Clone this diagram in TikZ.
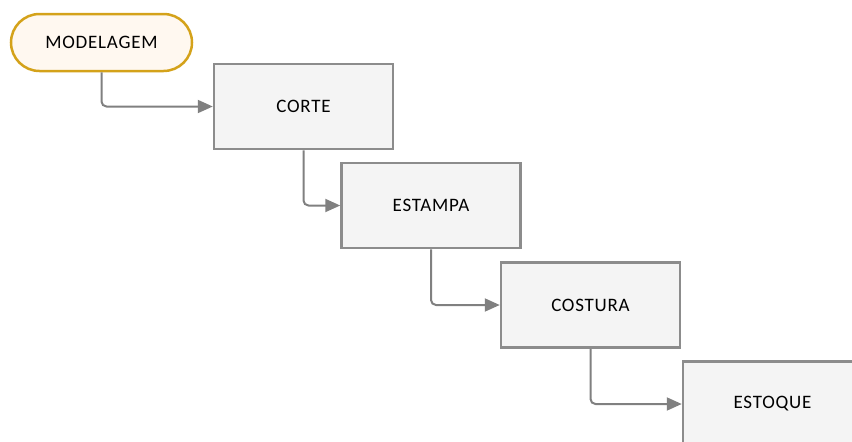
\documentclass[tikz,border=0pt]{standalone}
\usepackage{fontspec}
\setmainfont{Carlito}
\usetikzlibrary{arrows.meta}
\definecolor{boxfill}{HTML}{F4F4F4}
\definecolor{boxline}{HTML}{8C8C8C}
\definecolor{startline}{HTML}{D4A21A}
\definecolor{startfill}{HTML}{FFF8F0}
\definecolor{arrowcol}{HTML}{808080}
\tikzset{
  lbl/.style={font=\fontsize{19}{22}\selectfont\addfontfeature{LetterSpace=4}},
  stepbox/.style={lbl, draw=boxline, fill=boxfill, line width=2.5pt, minimum width=179pt, minimum height=85pt, inner sep=0pt},
  startbox/.style={lbl, draw=startline, fill=startfill, line width=2.5pt, rounded corners=28.5pt, minimum width=181pt, minimum height=57pt, inner sep=0pt},
  flow/.style={draw=arrowcol, line width=2pt, rounded corners=5pt, -{Triangle[length=15pt,width=13pt]}}
}
\begin{document}
\begin{tikzpicture}[x=1pt,y=-1pt]
\useasboundingbox (0,0) rectangle (852,442);
\clip (0,0) rectangle (852,442);
\node[startbox] (mod) at (101.5,42.5) {MODELAGEM};
\node[stepbox] (cor) at (303.5,106.5) {CORTE};
\node[stepbox] (est) at (431,205.5) {ESTAMPA};
\node[stepbox] (cos) at (590.5,305) {COSTURA};
\node[stepbox] (stq) at (772.5,404) {ESTOQUE};
\draw[flow] (mod.south) |- (cor.west);
\draw[flow] (cor.south) |- (est.west);
\draw[flow] (est.south) |- (cos.west);
\draw[flow] (cos.south) |- (stq.west);
\end{tikzpicture}
\end{document}
